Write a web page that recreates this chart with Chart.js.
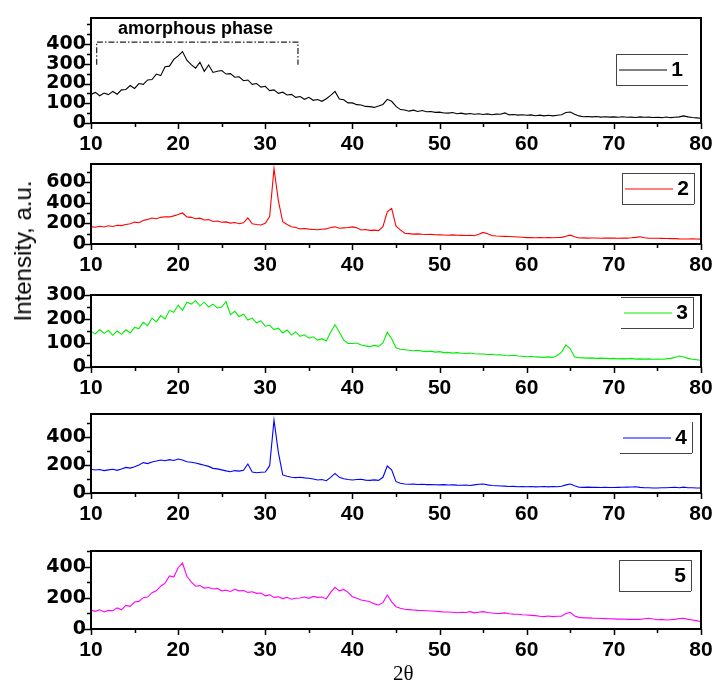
<!DOCTYPE html>
<html>
<head>
<meta charset="utf-8">
<script src="https://cdn.jsdelivr.net/npm/chart.js@4.4.0/dist/chart.umd.min.js"></script>
<style>
  body { margin: 0; background: #fff; width: 713px; height: 682px; position: relative; overflow: hidden; }
  canvas { position: absolute; left: 0; }
  #ylab { position: absolute; left: 23px; top: 251px; transform: translate(-50%, -50%) rotate(-90deg);
          font: 24px "Liberation Sans", Arial, sans-serif; white-space: nowrap; color: #000; }
  #xlab { position: absolute; left: 393px; top: 661px; font: 21px "Liberation Serif", "Times New Roman", serif; color: #000; }
</style>
</head>
<body>
<canvas id="p0"></canvas>
<canvas id="p1"></canvas>
<canvas id="p2"></canvas>
<canvas id="p3"></canvas>
<canvas id="p4"></canvas>
<div id="ylab">Intensity, a.u.</div>
<div id="xlab">2θ</div>
<script>
// 2-theta grid (degrees)
const theta = [
  10, 10.5, 11, 11.5, 12, 12.5, 13, 13.5, 14, 14.5,
  15, 15.5, 16, 16.5, 17, 17.5, 18, 18.5, 19, 19.5,
  20, 20.5, 21, 21.5, 22, 22.5, 23, 23.5, 24, 24.5,
  25, 25.5, 26, 26.5, 27, 27.5, 28, 28.5, 29, 29.5,
  30, 30.5, 31, 31.5, 32, 32.5, 33, 33.5, 34, 34.5,
  35, 35.5, 36, 36.5, 37, 37.5, 38, 38.5, 39, 39.5,
  40, 40.5, 41, 41.5, 42, 42.5, 43, 43.5, 44, 44.5,
  45, 45.5, 46, 46.5, 47, 47.5, 48, 48.5, 49, 49.5,
  50, 50.5, 51, 51.5, 52, 52.5, 53, 53.5, 54, 54.5,
  55, 55.5, 56, 56.5, 57, 57.5, 58, 58.5, 59, 59.5,
  60, 60.5, 61, 61.5, 62, 62.5, 63, 63.5, 64, 64.5,
  65, 65.5, 66, 66.5, 67, 67.5, 68, 68.5, 69, 69.5,
  70, 70.5, 71, 71.5, 72, 72.5, 73, 73.5, 74, 74.5,
  75, 75.5, 76, 76.5, 77, 77.5, 78, 78.5, 79, 79.5,
  80
];

// intensities, one list per sample
const sample1 = [
  145, 155, 138, 152, 144, 160, 146, 168, 170, 190,
  175, 200, 196, 218, 220, 248, 240, 285, 288, 322,
  340, 362, 318, 296, 278, 308, 262, 294, 256, 262,
  266, 248, 250, 232, 234, 214, 218, 196, 200, 182,
  186, 164, 168, 150, 156, 142, 145, 130, 134, 120,
  130, 115, 119, 110, 123, 140, 160, 122, 118, 102,
  102, 93, 91, 84, 83, 79, 86, 94, 120, 110,
  84, 68, 66, 60, 65, 58, 63, 57, 58, 54,
  55, 51, 50, 53, 47, 50, 45, 48, 44, 47,
  43, 46, 42, 45, 44, 51, 41, 43, 40, 42,
  39, 41, 37, 40, 36, 39, 36, 39, 42, 53,
  56, 44, 36, 32, 33, 31, 33, 30, 32, 30,
  31, 29, 32, 29, 30, 28, 31, 29, 30, 28,
  29, 27, 30, 27, 29, 31, 36, 31, 28, 26,
  24
];
const sample2 = [
  168, 162, 172, 165, 176, 170, 182, 178, 188, 196,
  212, 206, 228, 238, 252, 244, 258, 264, 262, 272,
  285, 300, 262, 258, 244, 250, 232, 236, 218, 222,
  210, 214, 202, 208, 196, 205, 252, 196, 188, 184,
  200, 265, 730, 420, 215, 188, 166, 160, 146, 150,
  144, 141, 138, 143, 146, 160, 166, 152, 156, 160,
  166, 158, 136, 140, 132, 134, 130, 168, 312, 345,
  172, 136, 104, 100, 96, 98, 94, 92, 93, 89,
  88, 87, 85, 88, 84, 83, 82, 85, 80, 95,
  112, 100, 82, 78, 75, 74, 72, 70, 68, 66,
  62, 63, 61, 62, 60, 62, 61, 63, 64, 75,
  86, 70, 58, 59, 57, 58, 58, 56, 57, 58,
  57, 56, 58, 57, 60, 64, 70, 60, 56, 55,
  55, 54, 53, 52, 52, 50, 49, 48, 50, 48,
  47
];
const sample3 = [
  148, 138, 156, 140, 152, 132, 150, 136, 155, 142,
  165, 160, 186, 172, 204, 188, 214, 200, 236, 228,
  258, 236, 270, 262, 276, 255, 270, 250, 262, 246,
  250, 272, 218, 232, 210, 220, 196, 204, 184, 192,
  170, 174, 156, 162, 142, 154, 134, 146, 128, 134,
  120, 126, 112, 118, 108, 145, 176, 146, 112, 98,
  98, 100, 92, 88, 85, 90, 86, 100, 145, 118,
  80, 74, 72, 70, 68, 70, 66, 64, 66, 62,
  64, 60, 61, 58, 60, 57, 56, 58, 55, 54,
  54, 52, 53, 50, 51, 48, 47, 49, 46, 45,
  43, 45, 42, 41, 40, 42, 40, 48, 62, 92,
  76, 42, 39, 38, 37, 38, 36, 37, 36, 35,
  36, 34, 35, 34, 36, 33, 34, 33, 34, 32,
  33, 32, 34, 36, 40, 46, 42, 36, 32, 30,
  28
];
const sample4 = [
  170, 164, 168, 160, 165, 170, 162, 172, 183, 178,
  188, 200, 217, 210, 221, 228, 236, 230, 238, 232,
  243, 236, 223, 220, 214, 206, 198, 190, 176, 172,
  165, 158, 152, 160, 156, 162, 207, 150, 145, 148,
  150, 195, 520, 290, 129, 120, 112, 110, 112, 108,
  105, 100, 93, 96, 88, 112, 140, 112, 102, 96,
  93, 96, 98, 92, 90, 94, 90, 112, 193, 165,
  81, 70, 64, 62, 63, 61, 62, 60, 61, 59,
  58, 60, 57, 58, 56, 55, 57, 54, 58, 62,
  64, 58, 54, 52, 50, 49, 46, 47, 45, 46,
  45, 46, 44, 45, 46, 44, 46, 45, 48, 58,
  64, 52, 41, 40, 42, 40, 41, 39, 40, 39,
  39, 40, 41, 42, 43, 45, 40, 38, 37, 36,
  36, 38, 37, 39, 41, 38, 42, 38, 37, 36,
  36
];
const sample5 = [
  122, 114, 124, 110, 120, 118, 136, 124, 152, 146,
  174, 178, 202, 206, 234, 246, 276, 296, 342, 335,
  395, 425, 340, 304, 276, 280, 264, 268, 258, 262,
  246, 250, 242, 256, 246, 248, 236, 240, 230, 232,
  214, 220, 204, 208, 196, 204, 192, 198, 200, 206,
  198, 210, 204, 206, 194, 236, 269, 246, 255, 236,
  208, 198, 187, 182, 176, 162, 155, 170, 219, 175,
  144, 134, 127, 125, 123, 120, 119, 118, 116, 114,
  112, 110, 110, 108, 105, 108, 106, 112, 104, 108,
  112, 106, 103, 100, 101, 104, 98, 96, 95, 92,
  90, 88, 86, 82, 80, 84, 80, 82, 82, 100,
  108, 84, 75, 72, 72, 70, 69, 68, 67, 66,
  65, 64, 64, 62, 62, 63, 62, 66, 69, 64,
  60, 62, 58, 60, 62, 68, 69, 62, 58, 54,
  47
];

const samples = [sample1, sample2, sample3, sample4, sample5];
const sampleNames = ['1', '2', '3', '4', '5'];
const colors = ['#000000', '#ff0000', '#00ee00', '#0000ff', '#ff00ff'];
const yMax = [532, 774, 300, 564, 503];
const yTicks = [[0, 100, 200, 300, 400], [0, 200, 400, 600], [0, 100, 200, 300], [0, 200, 400], [0, 200, 400]];
const yMinorStep = [50, 100, 50, 100, 100];
const xMin = 10, xMax = 80;

// bracket over the amorphous hump in panel 1 (2θ range and intensity levels)
const amorphStart = 10.65, amorphEnd = 33.75, amorphTop = 410, amorphFoot = 295;

// page layout of each panel: plot top/bottom, legend box offset from plot top-right
const panels = [
  { top: 18,  bottom: 123, legX: -85, legY: 36, sides: 'tlb', line: true },
  { top: 164, bottom: 244, legX: -79, legY: 9,  sides: 'tlbr', line: true },
  { top: 295, bottom: 367, legX: -80, legY: 2,  sides: 'tbr', line: true },
  { top: 414, bottom: 493, legX: -81, legY: 8,  sides: 'br', line: true },
  { top: 551, bottom: 629, legX: -82, legY: 9,  sides: 'tlbr', line: false }
];
const padTop = 12, xAxisH = 36;

const framePlugin = {
  id: 'frame',
  afterDatasetsDraw(chart, args, opts) {
    const { ctx, chartArea: a, scales: { x, y } } = chart;
    const i = opts.index;
    ctx.save();
    ctx.strokeStyle = '#000';
    ctx.lineWidth = 2;
    ctx.strokeRect(a.left, a.top, a.right - a.left, a.bottom - a.top);

    // x ticks, outward
    ctx.lineWidth = 1.5;
    ctx.beginPath();
    for (let v = xMin; v <= xMax; v += 5) {
      const px = Math.round(x.getPixelForValue(v)) + 0.5;
      const len = v % 10 === 0 ? 6 : 4;
      ctx.moveTo(px, a.bottom);
      ctx.lineTo(px, a.bottom + len);
    }
    // y ticks, outward
    for (let v = 0; v <= yMax[i]; v += yMinorStep[i]) {
      const py = Math.round(y.getPixelForValue(v)) + 0.5;
      const len = yTicks[i].includes(v) ? 7 : 4;
      ctx.moveTo(a.left, py);
      ctx.lineTo(a.left - len, py);
    }
    ctx.stroke();

    // legend box
    const p = panels[i];
    const bx = a.right + p.legX, by = a.top + p.legY, bw = 72, bh = 31;
    ctx.strokeStyle = '#444';
    ctx.lineWidth = 1;
    ctx.beginPath();
    if (p.sides.includes('t')) { ctx.moveTo(bx, by + 0.5); ctx.lineTo(bx + bw, by + 0.5); }
    if (p.sides.includes('b')) { ctx.moveTo(bx, by + bh + 0.5); ctx.lineTo(bx + bw, by + bh + 0.5); }
    if (p.sides.includes('l')) { ctx.moveTo(bx + 0.5, by); ctx.lineTo(bx + 0.5, by + bh); }
    if (p.sides.includes('r')) { ctx.moveTo(bx + bw + 0.5, by); ctx.lineTo(bx + bw + 0.5, by + bh); }
    ctx.stroke();
    if (p.line) {
      ctx.strokeStyle = colors[i];
      ctx.beginPath();
      ctx.moveTo(bx + 3, by + bh / 2 + 0.5);
      ctx.lineTo(bx + 51, by + bh / 2 + 0.5);
      ctx.stroke();
    }
    ctx.fillStyle = '#000';
    ctx.font = 'bold 21px "Liberation Sans", Arial, sans-serif';
    ctx.textAlign = 'right';
    ctx.textBaseline = 'middle';
    ctx.fillText(sampleNames[i], bx + bw - 5, by + bh / 2 + 1);

    // amorphous phase marker on the first panel
    if (i === 0) {
      const x0 = x.getPixelForValue(amorphStart), x1 = x.getPixelForValue(amorphEnd);
      const yt = y.getPixelForValue(amorphTop), yf = y.getPixelForValue(amorphFoot);
      ctx.strokeStyle = '#222';
      ctx.lineWidth = 1.2;
      ctx.setLineDash([6, 2, 1.5, 2]);
      ctx.beginPath();
      ctx.moveTo(x0, yf);
      ctx.lineTo(x0, yt);
      ctx.lineTo(x1, yt);
      ctx.lineTo(x1, yf);
      ctx.stroke();
      ctx.setLineDash([]);
      ctx.font = 'bold 18px "Liberation Sans", Arial, sans-serif';
      ctx.textAlign = 'left';
      ctx.textBaseline = 'alphabetic';
      ctx.fillText('amorphous phase', x.getPixelForValue(13.1), y.getPixelForValue(452));
    }
    ctx.restore();
  }
};

function makePanel(i) {
  const p = panels[i];
  const canvas = document.getElementById('p' + i);
  canvas.width = 713;
  canvas.height = p.bottom - p.top + padTop + xAxisH;
  canvas.style.top = (p.top - padTop) + 'px';

  const points = theta.map((t, k) => ({ x: t, y: samples[i][k] }));

  return new Chart(canvas.getContext('2d'), {
    type: 'line',
    data: {
      datasets: [{
        label: sampleNames[i],
        data: points,
        borderColor: colors[i],
        borderWidth: 1.1,
        pointRadius: 0,
        tension: 0,
        fill: false
      }]
    },
    options: {
      responsive: false,
      animation: false,
      devicePixelRatio: 1,
      layout: { padding: { top: padTop, right: 12, left: 0, bottom: 0 } },
      plugins: {
        legend: { display: false },
        tooltip: { enabled: false },
        frame: { index: i }
      },
      scales: {
        x: {
          type: 'linear',
          min: xMin,
          max: xMax,
          grid: { display: false, drawTicks: false },
          border: { display: false },
          ticks: {
            stepSize: 10,
            padding: 9,
            autoSkip: false,
            color: '#000',
            maxRotation: 0,
            font: { family: '"Liberation Sans Narrow", "Liberation Sans", Arial', size: 21, weight: 'bold' }
          },
          afterFit(s) { s.height = xAxisH; s.paddingLeft = 0; s.paddingRight = 0; }
        },
        y: {
          min: 0,
          max: yMax[i],
          grid: { display: false, drawTicks: false },
          border: { display: false },
          afterBuildTicks(s) { s.ticks = yTicks[i].map(v => ({ value: v })); },
          ticks: {
            padding: 5,
            autoSkip: false,
            color: '#000',
            font: { family: '"DejaVu Sans", sans-serif', size: 19, weight: 'bold' }
          },
          afterFit(s) { s.width = 91; s.paddingTop = 0; s.paddingBottom = 0; }
        }
      }
    },
    plugins: [framePlugin]
  });
}

const charts = [];
for (let i = 0; i < panels.length; i++) {
  charts.push(makePanel(i));
}
</script>
</body>
</html>
